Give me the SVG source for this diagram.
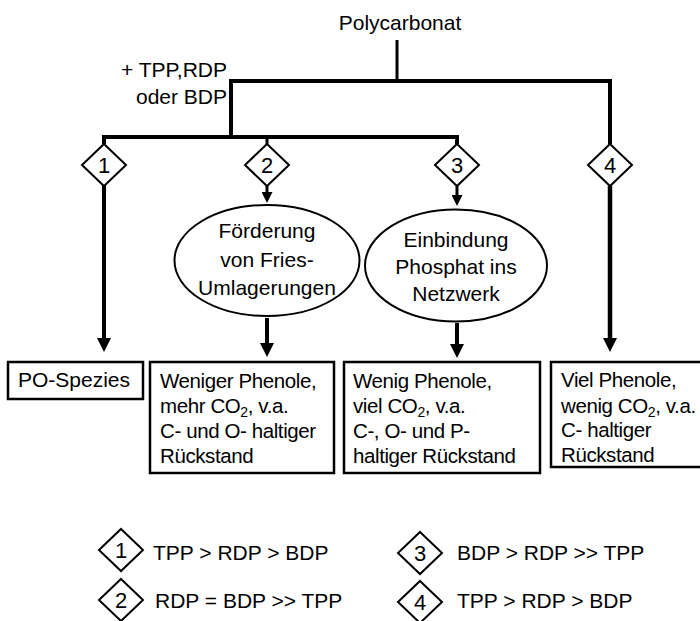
<svg xmlns="http://www.w3.org/2000/svg" width="700" height="621" viewBox="0 0 700 621">
<style>
  text { font-family: "Liberation Sans", Arial, sans-serif; fill: #000; }
  .t21 { font-size: 21px; }
  .t20 { font-size: 20.5px; letter-spacing: -0.4px; }
  .dig { font-size: 22px; text-anchor: middle; }
  .mid { text-anchor: middle; }
  .sub { font-size: 14px; }
  .shape { fill: #fff; stroke: #000; stroke-width: 2; }
  .box { fill: #fff; stroke: #000; stroke-width: 2.5; }
  .line { fill: none; stroke: #000; stroke-linejoin: miter; }
</style>
<defs>
  <marker id="big" markerUnits="userSpaceOnUse" markerWidth="14" markerHeight="14" refX="6" refY="7" orient="auto">
    <path d="M0,0 L14,7 L0,14 z" fill="#000"/>
  </marker>
  <marker id="small" markerUnits="userSpaceOnUse" markerWidth="11" markerHeight="11" refX="4" refY="5.5" orient="auto">
    <path d="M0,0 L11,5.5 L0,11 z" fill="#000"/>
  </marker>
  <polygon id="dia" points="0,-21 22,0 0,21 -22,0"/>
</defs>

<g id="connectors">
  <path class="line" d="M397,40 V81" stroke-width="3"/>
  <path class="line" d="M231,137 V81 H610 V144" stroke-width="4"/>
  <path class="line" d="M104,144 V137 H457 V144" stroke-width="4"/>
  <path class="line" d="M267,137 V144" stroke-width="3"/>
  <path class="line" d="M104,186 V344" stroke-width="4" marker-end="url(#big)"/>
  <path class="line" d="M610,186 V344" stroke-width="4.5" marker-end="url(#big)"/>
  <path class="line" d="M267,186 V196" stroke-width="3" marker-end="url(#small)"/>
  <path class="line" d="M457,186 V199" stroke-width="3" marker-end="url(#small)"/>
  <path class="line" d="M267,318 V349" stroke-width="4" marker-end="url(#big)"/>
  <path class="line" d="M457,323 V350" stroke-width="4" marker-end="url(#big)"/>
</g>

<g id="polycarbonat">
  <text class="t21 mid" x="400" y="30">Polycarbonat</text>
</g>

<g id="additive-label">
  <text class="t21" x="227" y="77" text-anchor="end">+ TPP,RDP</text>
  <text class="t21" x="227" y="104" text-anchor="end">oder BDP</text>
</g>

<g id="d1">
  <use href="#dia" x="104" y="165" class="shape"/>
  <text class="dig" x="104" y="173">1</text>
</g>
<g id="d2">
  <use href="#dia" x="267" y="165" class="shape"/>
  <text class="dig" x="267" y="173">2</text>
</g>
<g id="d3">
  <use href="#dia" x="457" y="165" class="shape"/>
  <text class="dig" x="457" y="173">3</text>
</g>
<g id="d4">
  <use href="#dia" x="610" y="165" class="shape"/>
  <text class="dig" x="610" y="173">4</text>
</g>

<g id="e2">
  <ellipse class="shape" cx="267" cy="260.5" rx="92.5" ry="55.5"/>
  <text class="t21 mid" x="267" y="238">Förderung</text>
  <text class="t21 mid" x="267" y="267">von Fries-</text>
  <text class="t21 mid" x="267" y="295">Umlagerungen</text>
</g>
<g id="e3">
  <ellipse class="shape" cx="456" cy="265.5" rx="91" ry="56"/>
  <text class="t21 mid" x="456" y="247">Einbindung</text>
  <text class="t21 mid" x="456" y="274">Phosphat ins</text>
  <text class="t21 mid" x="456" y="301">Netzwerk</text>
</g>

<g id="b1">
  <rect class="box" x="8" y="362" width="135" height="37"/>
  <text class="t21" x="18" y="387">PO-Spezies</text>
</g>
<g id="b2">
  <rect class="box" x="150" y="362" width="184" height="111"/>
  <text class="t20" x="160" y="388">Weniger Phenole,</text>
  <text class="t20" x="160" y="413">mehr CO<tspan class="sub" dy="4">2</tspan><tspan dy="-4">, v.a.</tspan></text>
  <text class="t20" x="160" y="438">C- und O- haltiger</text>
  <text class="t20" x="160" y="463">Rückstand</text>
</g>
<g id="b3">
  <rect class="box" x="344" y="362" width="196" height="111"/>
  <text class="t20" x="353" y="388">Wenig Phenole,</text>
  <text class="t20" x="353" y="413">viel CO<tspan class="sub" dy="4">2</tspan><tspan dy="-4">, v.a.</tspan></text>
  <text class="t20" x="353" y="438">C-, O- und P-</text>
  <text class="t20" x="353" y="463">haltiger Rückstand</text>
</g>
<g id="b4">
  <rect class="box" x="551" y="362" width="160" height="105"/>
  <text class="t20" x="561" y="387">Viel Phenole,</text>
  <text class="t20" x="561" y="413">wenig CO<tspan class="sub" dy="4">2</tspan><tspan dy="-4">, v.a.</tspan></text>
  <text class="t20" x="561" y="437">C- haltiger</text>
  <text class="t20" x="561" y="462">Rückstand</text>
</g>

<g id="legend">
  <g id="l1">
    <use href="#dia" x="121" y="550" class="shape"/>
    <text class="dig" x="121" y="558">1</text>
    <text class="t21" x="153" y="560">TPP &gt; RDP &gt; BDP</text>
  </g>
  <g id="l2">
    <use href="#dia" x="121" y="600" class="shape"/>
    <text class="dig" x="121" y="608">2</text>
    <text class="t21" x="155" y="608">RDP = BDP &gt;&gt; TPP</text>
  </g>
  <g id="l3">
    <use href="#dia" x="420" y="553" class="shape"/>
    <text class="dig" x="420" y="561">3</text>
    <text class="t21" x="457" y="560">BDP &gt; RDP &gt;&gt; TPP</text>
  </g>
  <g id="l4">
    <use href="#dia" x="420" y="602" class="shape"/>
    <text class="dig" x="420" y="610">4</text>
    <text class="t21" x="457" y="608">TPP &gt; RDP &gt; BDP</text>
  </g>
</g>
</svg>
